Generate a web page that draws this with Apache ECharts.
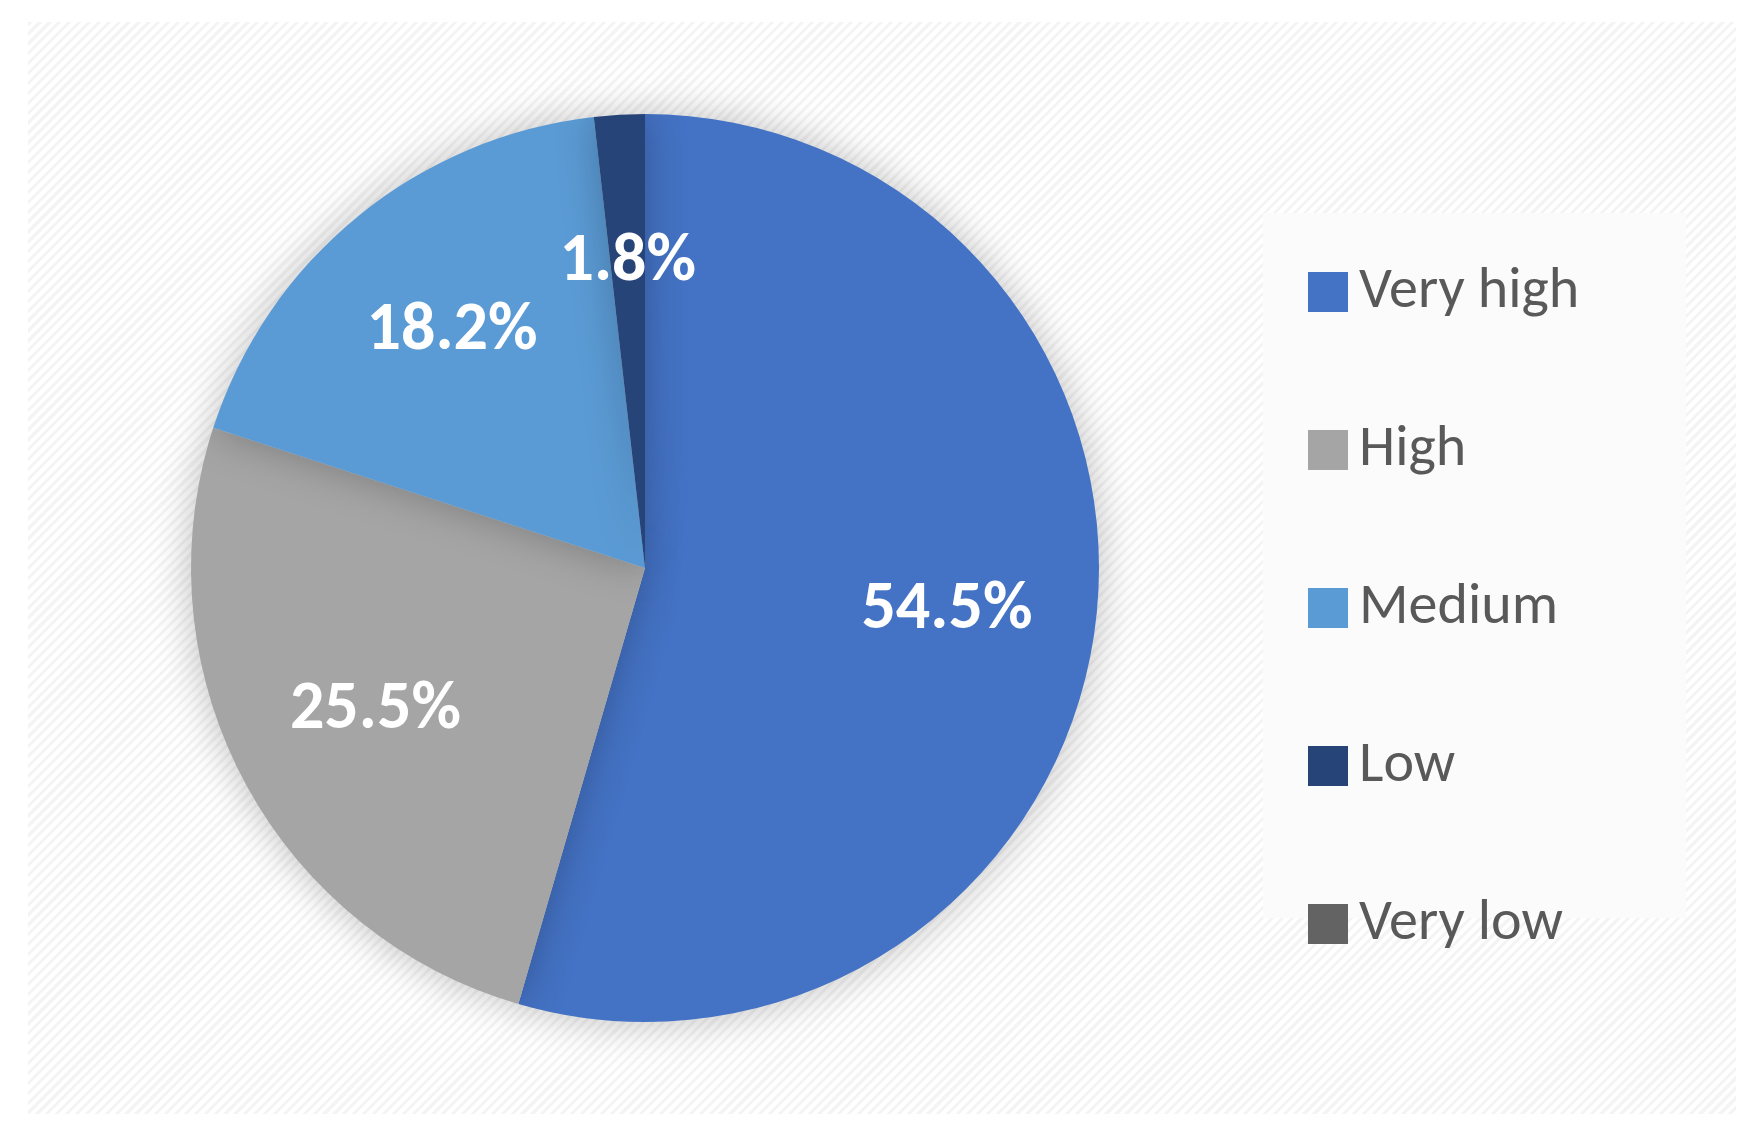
<!DOCTYPE html>
<html>
<head>
<meta charset="utf-8">
<script src="https://cdn.jsdelivr.net/npm/echarts@6/dist/echarts.min.js"></script>
<style>
  html, body { margin: 0; padding: 0; background: #fff; }
  #bg {
    position: absolute; left: 28px; top: 22px; width: 1708px; height: 1092px;
    background: repeating-linear-gradient(135deg, #f4f4f4 0px, #f4f4f4 3px, #ffffff 3px, #ffffff 7px);
  }
  #legbg { position: absolute; left: 1263px; top: 213px; width: 423px; height: 705px; background: #fbfbfb; }
  #chart { position: absolute; left: 0; top: 0; width: 1748px; height: 1135px; }
</style>
</head>
<body>
<div id="bg"></div>
<div id="legbg"></div>
<div id="chart"></div>
<script>
const categories = ['Very high', 'High', 'Medium', 'Low', 'Very low'];
const values = [54.5, 25.5, 18.2, 1.8, 0];
const colors = ['#4472c4', '#a5a5a5', '#5b9bd5', '#264478', '#636363'];

const chart = echarts.init(document.getElementById('chart'));
const data = categories.map((c, i) => ({ name: c, value: values[i] }));
const font = 'Calibri, "Open Sans", "DejaVu Sans", sans-serif';

chart.setOption({
  color: colors,
  legend: {
    orient: 'vertical',
    left: 1303, top: 258,
    itemWidth: 40, itemHeight: 40, itemGap: 100,
    icon: 'rect',
    data: categories,
    textStyle: { fontSize: 58, color: '#595959', fontFamily: font, padding: [0, 0, 0, 6] }
  },
  series: [
    {
      type: 'pie',
      center: [645, 568],
      radius: [0, 454],
      startAngle: 90,
      clockwise: true,
      silent: true,
      label: { show: false },
      labelLine: { show: false },
      itemStyle: { shadowBlur: 40, shadowColor: 'rgba(0,0,0,0.25)' },
      data: data
    },
    {
      type: 'pie',
      center: [645, 568],
      radius: [150, 454],
      startAngle: 90,
      clockwise: true,
      silent: true,
      itemStyle: { color: 'transparent' },
      label: {
        show: true, position: 'inside',
        formatter: p => p.value > 0 ? p.value.toFixed(1) + '%' : '',
        color: '#fff', fontSize: 68, fontWeight: 'bold', fontFamily: font
      },
      labelLine: { show: false },
      data: data
    }
  ]
});
</script>
</body>
</html>
